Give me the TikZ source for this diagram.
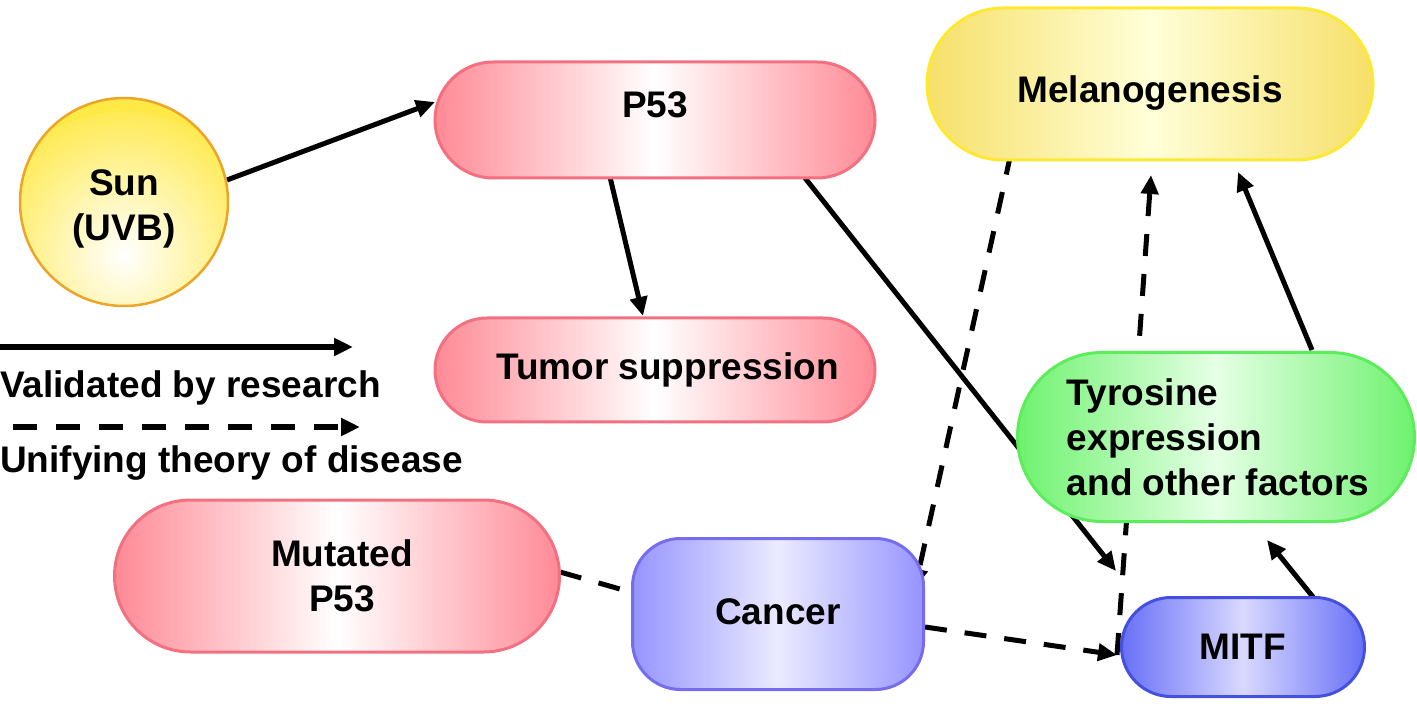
\documentclass[tikz,border=0pt]{standalone}
\usepackage{fontspec}
\setmainfont{Liberation Sans}
\usetikzlibrary{arrows.meta,shapes.misc,calc}
\pgfdeclarelayer{bg}
\pgfsetlayers{bg,main}
\definecolor{pinkE}{RGB}{255,138,150}
\definecolor{pinkB}{RGB}{242,112,128}
\definecolor{sunY}{RGB}{255,233,70}
\definecolor{sunB}{RGB}{236,165,40}
\definecolor{melE}{RGB}{246,224,105}
\definecolor{melB}{RGB}{255,232,50}
\definecolor{grnE}{RGB}{110,242,110}
\definecolor{grnB}{RGB}{92,236,92}
\definecolor{canE}{RGB}{150,148,255}
\definecolor{canB}{RGB}{118,108,238}
\definecolor{mitE}{RGB}{104,112,246}
\definecolor{mitB}{RGB}{70,80,222}
\tikzset{
  lbl/.style={font=\fontsize{37}{45}\selectfont\bfseries},
  box/.style={rounded rectangle, line width=3pt, lbl, align=center, inner sep=0pt},
  pinkbox/.style={box, draw=pinkB, left color=pinkE, right color=pinkE, middle color=white},
  conn/.style={line width=5pt, -{Triangle[length=19pt,width=17pt]}},
  dconn/.style={conn, dash pattern=on 22pt off 18pt},
  dline/.style={line width=5pt, dash pattern=on 22pt off 18pt},
}
\begin{document}
\begin{tikzpicture}[x=1pt,y=-1pt]
\useasboundingbox (0,0) rectangle (1417,708);
% nodes
\node[circle, draw=sunB, line width=2.5pt, fill=sunY, minimum size=208pt, inner sep=0pt,
  path picture={\shade[inner color=white, outer color=sunY] ($(path picture bounding box.center)+(0,60)$) circle (150);},
  label={[lbl, align=center, yshift=-7pt, name=sunt]center:Sun\\(UVB)}]
  (sun) at (124,202) {};
\node[pinkbox, minimum width=440pt, minimum height=116pt,
  label={[lbl, yshift=15pt, name=p53t]center:P53}] (p53) at (655,120) {};
\node[pinkbox, minimum width=440pt, minimum height=104pt] (tumor) at (655,370) {\hspace*{25pt}Tumor suppression};
\node[pinkbox, minimum width=445pt, minimum height=152pt] (mut) at (337,576) {\hspace*{10pt}Mutated\\\hspace*{10pt}P53};
\node[box, draw=melB, left color=melE, right color=melE, middle color=white!85!yellow,
  minimum width=446pt, minimum height=152pt,
  label={[lbl, yshift=-9pt, name=melt]center:Melanogenesis}] (mel) at (1150,84) {};
\node[box, draw=grnB, left color=grnE, right color=grnE, middle color=white!90!green,
  minimum width=397pt, minimum height=169pt, align=left] (tyr) at (1216,437) {\hspace*{4pt}Tyrosine\\\hspace*{4pt}expression\\\hspace*{4pt}and other factors};
\node[rectangle, rounded corners=48pt, line width=3pt, lbl, draw=canB, left color=canE, right color=canE, middle color=white!92!blue,
  minimum width=291pt, minimum height=151pt, inner sep=0pt] (can) at (778,614) {\raisebox{5pt}{Cancer}};
\node[box, draw=mitB, left color=mitE, right color=mitE, middle color=white!85!blue,
  minimum width=243pt, minimum height=99pt] (mitf) at (1243,647) {MITF};
% legend
\coordinate (l1a) at (0,347);
\coordinate (l1b) at (353,347);
\coordinate (l2a) at (13,427);
\coordinate (l2b) at (360,427);
\draw[conn, line width=6pt] (l1a) -- (l1b);
\draw[dconn, line width=6pt, dash pattern=on 24pt off 19pt] (l2a) -- (l2b);
\node[lbl, anchor=base west, inner sep=0pt] (leg1) at (0,398) {Validated by research};
\node[lbl, anchor=base west, inner sep=0pt] (leg2) at (0,472) {Unifying theory of disease};
% connectors
\begin{pgfonlayer}{bg}
\draw[conn] ($(sun.center)+(103,-22)$) -- ($(p53.center)+(-220,-18)$);
\draw[conn] ($(p53.center)+(-45,57)$) -- ($(tumor.center)+(-12,-54)$);
\draw[conn] ($(p53.center)+(150,58)$) -- ($(mitf.center)+(-127,-76)$);
\draw[dconn] ($(mel.center)+(-139,69)$) -- ($(can.center)+(137,-26)$);
\draw[dline] ($(mut.center)+(223,-4)$) -- ($(can.center)+(-144,-21)$);
\draw[dconn] ($(can.center)+(147,13)$) -- ($(mitf.center)+(-126,8)$);
\draw[dconn] ($(mitf.center)+(-126,8)$) -- ($(mel.center)+(1,91)$);
\draw[conn] ($(tyr.center)+(96,-87)$) -- ($(mel.center)+(88,88)$);
\draw[conn] ($(mitf.center)+(70,-50)$) -- ($(tyr.center)+(51,103)$);
\end{pgfonlayer}
\end{tikzpicture}
\end{document}
